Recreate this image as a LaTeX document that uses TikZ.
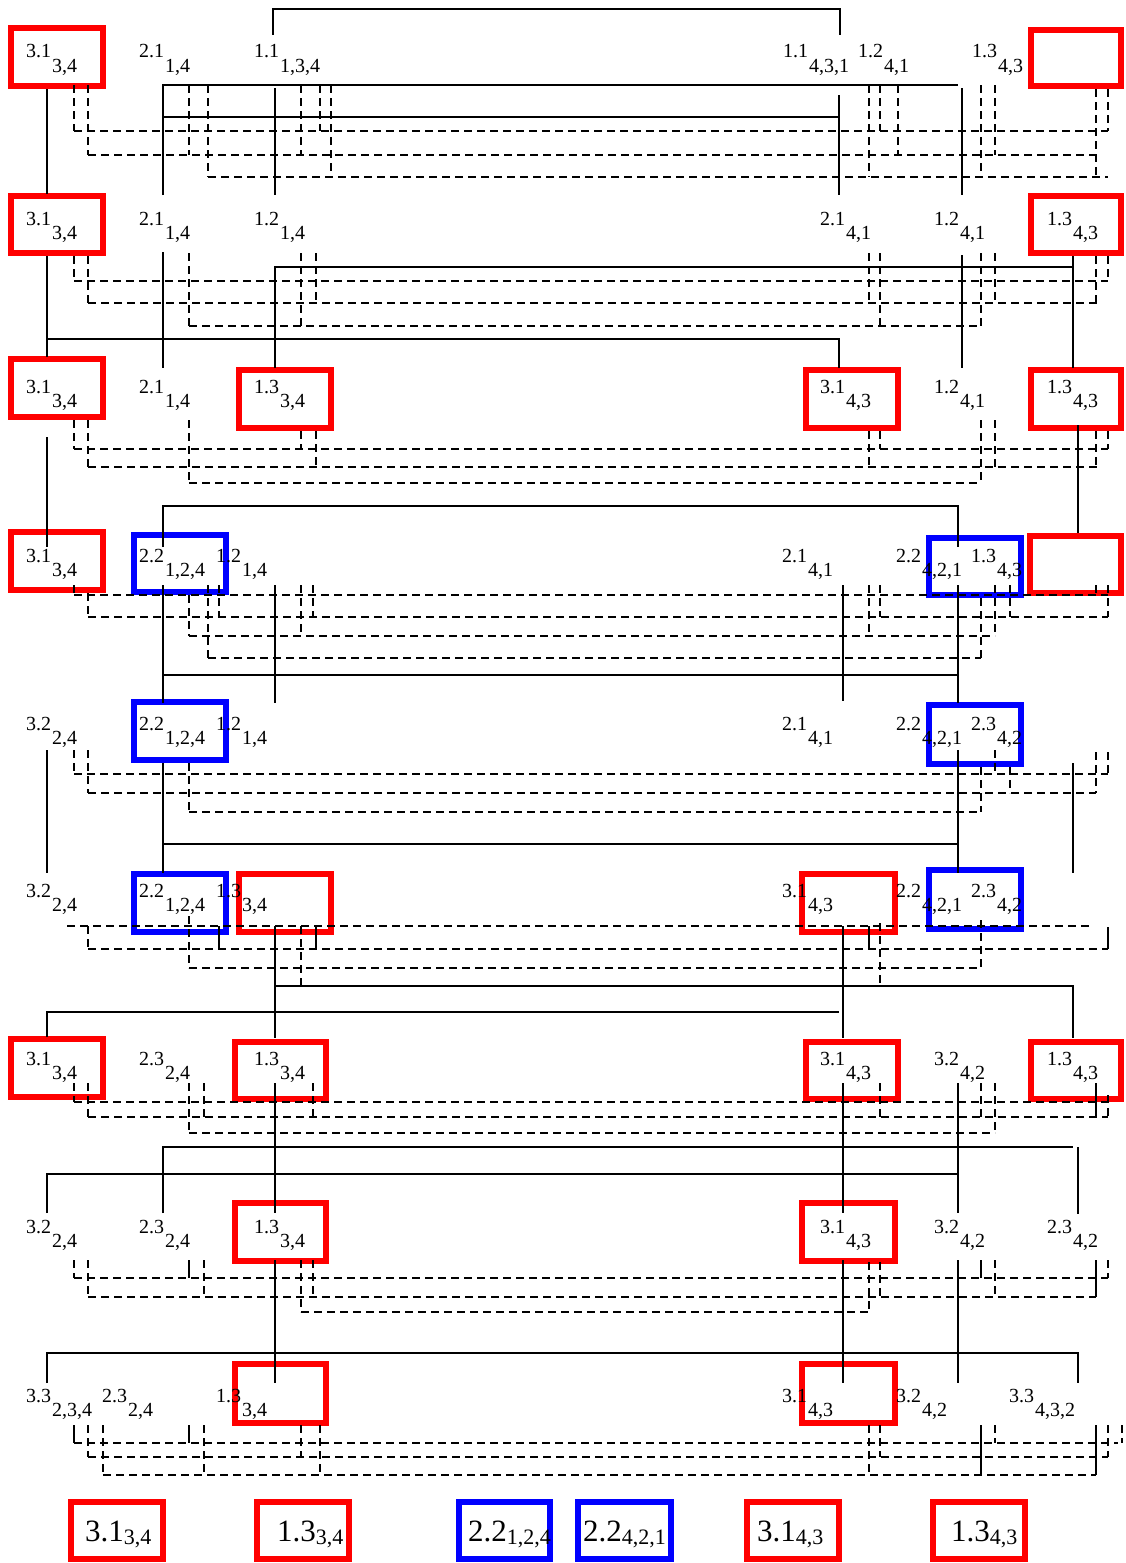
\documentclass[tikz,border=0pt]{standalone}
\usepackage{fontspec}
\setmainfont{Liberation Serif}
\newcommand\mylb[5]{\node[lab] (#1) at (#2,#3) {#4};\node[lab] (#1s) at ({#2+26},{#3+14.5}) {#5};}
\newcommand\mybx[6]{\draw[#2] ({#3+3},{#4+3}) rectangle ({#5-3},{#6-3});\coordinate (#1) at ({(#3+#5)/2},{(#4+#6)/2});}
\newcommand\mylg[4]{\node[big] (#1) at (#2,1541) {#3};\node[bigsub] (#1s) at ([yshift=-3pt]#1.base east) {#4};}
\begin{document}
\begin{tikzpicture}[x=1pt,y=-1pt,
  lab/.style={anchor=base west,inner sep=0pt,outer sep=0pt,font=\fontsize{20}{20}\selectfont},
  big/.style={anchor=base west,inner sep=0pt,outer sep=0pt,font=\fontsize{31}{31}\selectfont},
  bigsub/.style={anchor=base west,inner sep=0pt,outer sep=0pt,font=\fontsize{22}{22}\selectfont},
  rbox/.style={draw=red,line width=6pt},
  bbox/.style={draw=blue,line width=6pt},
  sl/.style={draw=black,line width=1.4pt},
  dl/.style={draw=black,line width=1.4pt,dash pattern=on 8pt off 5pt},
]
\useasboundingbox[fill=white] (0,0) rectangle (1126,1563);
% ---------------- boxes
\mybx{b1a}{rbox}{8}{25}{106}{89}
\mybx{b1f}{rbox}{1028}{27}{1124}{89}
\mybx{b2a}{rbox}{8}{193}{106}{256}
\mybx{b2f}{rbox}{1028}{193}{1124}{256}
\mybx{b3a}{rbox}{8}{356}{106}{420}
\mybx{b3c}{rbox}{236}{367}{334}{431}
\mybx{b3d}{rbox}{803}{367}{901}{431}
\mybx{b3f}{rbox}{1028}{367}{1124}{431}
\mybx{b4a}{rbox}{8}{529}{106}{593}
\mybx{b4b}{bbox}{131}{532}{229}{595}
\mybx{b4e}{bbox}{926}{535}{1024}{598}
\mybx{b4f}{rbox}{1027}{533}{1124}{596}
\mybx{b5b}{bbox}{131}{699}{229}{763}
\mybx{b5e}{bbox}{926}{702}{1024}{767}
\mybx{b6b}{bbox}{131}{871}{229}{935}
\mybx{b6c}{rbox}{236}{871}{334}{935}
\mybx{b6d}{rbox}{799}{871}{898}{935}
\mybx{b6e}{bbox}{926}{867}{1024}{932}
\mybx{b7a}{rbox}{8}{1036}{106}{1100}
\mybx{b7c}{rbox}{232}{1039}{329}{1102}
\mybx{b7d}{rbox}{803}{1039}{901}{1102}
\mybx{b7f}{rbox}{1028}{1039}{1124}{1102}
\mybx{b8c}{rbox}{232}{1200}{329}{1264}
\mybx{b8d}{rbox}{799}{1200}{898}{1264}
\mybx{b9c}{rbox}{232}{1361}{329}{1426}
\mybx{b9d}{rbox}{799}{1361}{898}{1426}
\mybx{g1}{rbox}{68}{1499}{166}{1562}
\mybx{g2}{rbox}{254}{1499}{352}{1562}
\mybx{g3}{bbox}{456}{1499}{553}{1562}
\mybx{g4}{bbox}{575}{1499}{674}{1562}
\mybx{g5}{rbox}{744}{1499}{842}{1562}
\mybx{g6}{rbox}{930}{1499}{1028}{1562}
% ---------------- solid connectors
\draw[sl] (273,35)--(273,9)--(840,9)--(840,35);
\draw[sl] (47,89)--(47,194);
\draw[sl] (163,195)--(163,85)--(958,85);
\draw[sl] (962,88)--(962,195);
\draw[sl] (163,117)--(839,117);
\draw[sl] (275,88)--(275,195);
\draw[sl] (839,95)--(839,195);
\draw[sl] (47,256)--(47,357);
\draw[sl] (47,339)--(839,339)--(839,368);
\draw[sl] (163,252)--(163,368);
\draw[sl] (275,368)--(275,267)--(1073,267);
\draw[sl] (1073,256)--(1073,368);
\draw[sl] (962,255)--(962,368);
\draw[sl] (47,437)--(47,547);
\draw[sl] (163,547)--(163,506)--(958,506)--(958,547);
\draw[sl] (1078,425)--(1078,533);
\draw[sl] (163,585)--(163,703);
\draw[sl] (163,675)--(958,675);
\draw[sl] (958,585)--(958,703);
\draw[sl] (275,585)--(275,703);
\draw[sl] (843,585)--(843,701);
\draw[sl] (47,750)--(47,873);
\draw[sl] (163,763)--(163,873);
\draw[sl] (163,844)--(958,844);
\draw[sl] (958,750)--(958,873);
\draw[sl] (1073,763)--(1073,873);
\draw[sl] (275,926)--(275,1038);
\draw[sl] (275,986)--(1073,986)--(1073,1038);
\draw[sl] (47,1037)--(47,1012)--(839,1012);
\draw[sl] (843,926)--(843,1038);
\draw[sl] (275,1083)--(275,1213);
\draw[sl] (163,1213)--(163,1147)--(1073,1147);
\draw[sl] (1078,1147)--(1078,1214);
\draw[sl] (47,1213)--(47,1174)--(958,1174);
\draw[sl] (843,1083)--(843,1213);
\draw[sl] (958,1083)--(958,1213);
\draw[sl] (275,1260)--(275,1383);
\draw[sl] (843,1260)--(843,1383);
\draw[sl] (958,1260)--(958,1383);
\draw[sl] (47,1383)--(47,1353)--(1078,1353)--(1078,1383);
% short solid stubs
\foreach \x/\a/\b in {219/926/949,316/926/949,869/926/949,1108/927/949,
  1096/1083/1117,189/1260/1278,981/1260/1278,1096/1260/1297,
  74/1425/1443,189/1425/1443,981/1425/1475,1096/1425/1475}
  \draw[sl] (\x,\a)--(\x,\b);
% ---------------- dashed buses: vertical stubs
\foreach \x/\a/\b in {
  74/85/131,88/85/155,189/85/155,208/85/177,301/85/155,320/85/131,331/85/177,
  869/85/177,880/85/131,898/85/155,981/85/177,995/85/155,1096/89/177,1108/89/131,
  74/256/281,88/256/303,189/253/326,301/253/326,316/253/303,869/253/303,880/253/326,
  981/253/326,995/253/303,1096/256/303,1108/256/281,
  74/420/449,88/420/467,189/420/483,301/431/449,316/431/467,869/431/467,880/431/449,
  981/420/483,995/420/467,1096/431/467,1108/431/449,
  74/585/595,88/593/617,189/595/636,208/585/658,219/585/617,301/585/636,313/585/617,
  869/585/636,880/585/617,981/598/658,995/585/636,1010/585/617,1096/585/595,1108/585/617,
  74/750/774,88/750/793,189/763/812,981/767/812,995/750/774,1010/767/793,1096/752/793,1108/752/774,
  88/926/949,189/916/968,301/926/986,880/923/986,981/920/968,
  74/1083/1102,88/1083/1117,189/1083/1133,204/1083/1117,313/1083/1117,880/1083/1117,
  981/1083/1117,995/1083/1133,1108/1095/1117,
  74/1260/1278,88/1260/1297,204/1260/1297,301/1260/1312,313/1260/1297,869/1262/1312,
  880/1262/1297,995/1260/1297,1108/1260/1278,
  88/1425/1457,103/1425/1475,204/1425/1475,301/1425/1457,320/1425/1475,869/1425/1475,
  880/1425/1457,995/1425/1443,1108/1425/1457,1122/1425/1443}
  \draw[dl] (\x,\a)--(\x,\b);
% dashed buses: horizontals
\foreach \y/\a/\b in {
  131/74/1108,155/88/1100,177/208/1108,
  281/74/1108,303/88/1100,326/189/981,
  449/74/1108,467/88/1100,483/189/981,
  595/74/1108,617/88/1108,636/189/995,658/208/981,
  774/74/1108,793/88/1096,812/189/981,
  926/67/1090,949/88/1108,968/189/981,
  1102/74/1108,1117/88/1108,1133/189/995,
  1278/74/1108,1297/88/1096,1312/301/869,
  1443/74/1118,1457/88/1108,1475/103/1096}
  \draw[dl] (\a,\y)--(\b,\y);
% ---------------- labels
\mylb{l1a}{26}{58}{3.1}{3,4}
\mylb{l1b}{139}{58}{2.1}{1,4}
\mylb{l1c}{254}{58}{1.1}{1,3,4}
\mylb{l1d}{783}{58}{1.1}{4,3,1}
\mylb{l1e}{858}{58}{1.2}{4,1}
\mylb{l1f}{972}{58}{1.3}{4,3}
\mylb{l2a}{26}{225}{3.1}{3,4}
\mylb{l2b}{139}{225}{2.1}{1,4}
\mylb{l2c}{254}{225}{1.2}{1,4}
\mylb{l2d}{820}{225}{2.1}{4,1}
\mylb{l2e}{934}{225}{1.2}{4,1}
\mylb{l2f}{1047}{225}{1.3}{4,3}
\mylb{l3a}{26}{393}{3.1}{3,4}
\mylb{l3b}{139}{393}{2.1}{1,4}
\mylb{l3c}{254}{393}{1.3}{3,4}
\mylb{l3d}{820}{393}{3.1}{4,3}
\mylb{l3e}{934}{393}{1.2}{4,1}
\mylb{l3f}{1047}{393}{1.3}{4,3}
\mylb{l4a}{26}{562}{3.1}{3,4}
\mylb{l4b}{139}{562}{2.2}{1,2,4}
\mylb{l4c}{216}{562}{1.2}{1,4}
\mylb{l4d}{782}{562}{2.1}{4,1}
\mylb{l4e}{896}{562}{2.2}{4,2,1}
\mylb{l4f}{971}{562}{1.3}{4,3}
\mylb{l5a}{26}{730}{3.2}{2,4}
\mylb{l5b}{139}{730}{2.2}{1,2,4}
\mylb{l5c}{216}{730}{1.2}{1,4}
\mylb{l5d}{782}{730}{2.1}{4,1}
\mylb{l5e}{896}{730}{2.2}{4,2,1}
\mylb{l5f}{971}{730}{2.3}{4,2}
\mylb{l6a}{26}{897}{3.2}{2,4}
\mylb{l6b}{139}{897}{2.2}{1,2,4}
\mylb{l6c}{216}{897}{1.3}{3,4}
\mylb{l6d}{782}{897}{3.1}{4,3}
\mylb{l6e}{896}{897}{2.2}{4,2,1}
\mylb{l6f}{971}{897}{2.3}{4,2}
\mylb{l7a}{26}{1065}{3.1}{3,4}
\mylb{l7b}{139}{1065}{2.3}{2,4}
\mylb{l7c}{254}{1065}{1.3}{3,4}
\mylb{l7d}{820}{1065}{3.1}{4,3}
\mylb{l7e}{934}{1065}{3.2}{4,2}
\mylb{l7f}{1047}{1065}{1.3}{4,3}
\mylb{l8a}{26}{1233}{3.2}{2,4}
\mylb{l8b}{139}{1233}{2.3}{2,4}
\mylb{l8c}{254}{1233}{1.3}{3,4}
\mylb{l8d}{820}{1233}{3.1}{4,3}
\mylb{l8e}{934}{1233}{3.2}{4,2}
\mylb{l8f}{1047}{1233}{2.3}{4,2}
\mylb{l9a}{26}{1402}{3.3}{2,3,4}
\mylb{l9b}{102}{1402}{2.3}{2,4}
\mylb{l9c}{216}{1402}{1.3}{3,4}
\mylb{l9d}{782}{1402}{3.1}{4,3}
\mylb{l9e}{896}{1402}{3.2}{4,2}
\mylb{l9f}{1009}{1402}{3.3}{4,3,2}
% ---------------- legend
\mylg{t1}{85}{3.1}{3,4}
\mylg{t2}{277}{1.3}{3,4}
\mylg{t3}{468}{2.2}{1,2,4}
\mylg{t4}{583}{2.2}{4,2,1}
\mylg{t5}{757}{3.1}{4,3}
\mylg{t6}{951}{1.3}{4,3}
\end{tikzpicture}
\end{document}
